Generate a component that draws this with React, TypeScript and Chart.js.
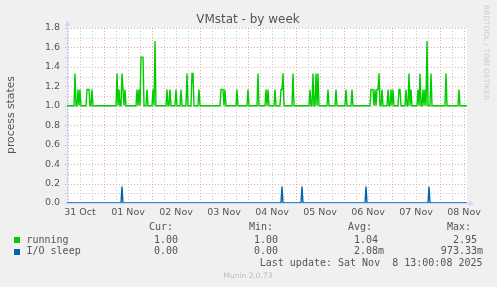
import React, { useEffect, useRef } from 'react';
import { Chart, registerables } from 'chart.js';

Chart.register(...registerables);

// ---------- data ----------
const TITLE = 'VMstat - by week';
const Y_TITLE = 'process states';
const WATERMARK = 'RRDTOOL / TOBI OETIKER';
const FOOTER = 'Munin 2.0.73';
const LAST_UPDATE = 'Last update: Sat Nov  8 13:00:08 2025';

// time axis in hours since 31 Oct 00:00
const START_HOUR = 5.5;
const END_HOUR = 205.5;
const STEP_HOURS = 0.5;
const DAY_LABELS = ['31 Oct', '01 Nov', '02 Nov', '03 Nov', '04 Nov', '05 Nov', '06 Nov', '07 Nov', '08 Nov'];
const DAY_LABEL_HOURS = [12, 36, 60, 84, 108, 132, 156, 180, 204];
const Y_TICKS = [0, 0.2, 0.4, 0.6, 0.8, 1.0, 1.2, 1.4, 1.6, 1.8];

const RUNNING_BASE = 1.0;
const runningSpikeHours = [
  9.5, 11.0, 12.0, 15.5, 16.0, 16.5, 18.0,
  30.5, 31.5, 33.0, 33.5, 34.5,
  40.5, 41.5, 42.5, 43.0, 43.5, 45.5, 48.5, 49.5,
  55.5, 57.0, 60.0, 62.5, 65.5, 68.0, 68.5, 71.5,
  82.5, 83.0, 83.5, 84.5, 90.5, 96.0, 101.0,
  105.0, 106.0, 109.5, 112.5, 113.0, 113.5, 118.5,
  127.0, 128.5, 130.0, 131.0, 136.0, 140.0, 145.0, 148.0,
  157.5, 158.0, 158.5, 159.5, 160.5, 161.0, 161.5, 163.0,
  166.0, 167.5, 168.5, 171.5, 172.0, 175.0, 176.5, 177.5,
  181.0, 182.0, 183.5, 184.5, 185.5, 187.5, 195.0, 201.5,
];
const runningSpikeValues = [
  1.333, 1.167, 1.167, 1.167, 1.167, 1.167, 1.167,
  1.333, 1.167, 1.333, 1.167, 1.167,
  1.167, 1.167, 1.5, 1.5, 1.5, 1.167, 1.167, 1.667,
  1.167, 1.167, 1.167, 1.167, 1.333, 1.333, 1.333, 1.167,
  1.167, 1.167, 1.167, 1.167, 1.167, 1.167, 1.333,
  1.167, 1.167, 1.167, 1.167, 1.167, 1.333, 1.333,
  1.167, 1.333, 1.333, 1.333, 1.167, 1.167, 1.167, 1.167,
  1.167, 1.167, 1.167, 1.167, 1.167, 1.167, 1.333, 1.167,
  1.167, 1.167, 1.167, 1.167, 1.167, 1.167, 1.333, 1.167,
  1.167, 1.333, 1.167, 1.167, 1.667, 1.333, 1.333, 1.167,
];

const IO_BASE = 0;
const ioSpikeHours = [33.0, 113.0, 123.0, 155.0, 186.5];
const ioSpikeValues = [0.17, 0.17, 0.17, 0.17, 0.17];

const legendNames = ['running', 'I/O sleep'];
const legendColors = ['#00cc00', '#0066b3'];
const legendHeaders = ['Cur:', 'Min:', 'Avg:', 'Max:'];
const curValues = ['1.00 ', '0.00 '];
const minValues = ['1.00 ', '0.00 '];
const avgValues = ['1.04 ', '2.08m'];
const maxValues = ['2.95 ', '973.33m'];

// ---------- helpers ----------
function buildSeries(base: number, hours: number[], values: number[]) {
  const pts: { x: number; y: number }[] = [];
  const n = Math.round((END_HOUR - START_HOUR) / STEP_HOURS);
  for (let i = 0; i <= n; i++) {
    const t = START_HOUR + i * STEP_HOURS;
    const k = hours.indexOf(t);
    pts.push({ x: t, y: k >= 0 ? values[k] : base });
  }
  return pts;
}

const FONT = '"DejaVu Sans", sans-serif';
const MONO = '"DejaVu Sans Mono", monospace';
const TEXT_COLOR = '#555555';
const AXIS_COLOR = '#cfd6f8';
const MINOR_GRID = 'rgba(175,175,175,0.7)';
const MAJOR_GRID = 'rgba(232,120,120,0.65)';

const muninPlugin = {
  id: 'munin',
  beforeDraw(chart: any) {
    const { ctx, chartArea, scales } = chart;
    const { left, right, top, bottom } = chartArea;
    ctx.save();
    ctx.fillStyle = '#f0f0f0';
    ctx.fillRect(0, 0, chart.width, chart.height);
    ctx.fillStyle = '#ffffff';
    ctx.fillRect(left, top, right - left, bottom - top);

    ctx.lineWidth = 1;
    ctx.setLineDash([1, 2]);
    // horizontal grid
    for (let i = 0; i <= 18; i++) {
      const v = i / 10;
      const y = Math.round(scales.y.getPixelForValue(v)) + 0.5;
      const major = i % 2 === 0;
      ctx.strokeStyle = major ? MAJOR_GRID : MINOR_GRID;
      ctx.beginPath();
      ctx.moveTo(left - 2, y);
      ctx.lineTo(right, y);
      ctx.stroke();
    }
    // vertical grid
    for (let h = 6; h <= END_HOUR; h += 6) {
      if (h < START_HOUR) continue;
      const x = Math.round(scales.x.getPixelForValue(h)) + 0.5;
      const major = h % 24 === 0;
      ctx.strokeStyle = major ? MAJOR_GRID : MINOR_GRID;
      ctx.beginPath();
      ctx.moveTo(x, top);
      ctx.lineTo(x, bottom + 2);
      ctx.stroke();
    }
    ctx.setLineDash([]);

    // axes
    ctx.strokeStyle = AXIS_COLOR;
    ctx.fillStyle = AXIS_COLOR;
    const ax = Math.round(left) + 0.5;
    const ay = Math.round(bottom) + 0.5;
    ctx.beginPath();
    ctx.moveTo(ax, ay);
    ctx.lineTo(ax, top - 4);
    ctx.moveTo(left - 2, ay);
    ctx.lineTo(right + 3, ay);
    ctx.stroke();
    ctx.beginPath();
    ctx.moveTo(ax, top - 7);
    ctx.lineTo(ax - 3, top - 2);
    ctx.lineTo(ax + 3, top - 2);
    ctx.closePath();
    ctx.fill();
    ctx.beginPath();
    ctx.moveTo(right + 7, ay);
    ctx.lineTo(right + 2, ay - 3);
    ctx.lineTo(right + 2, ay + 3);
    ctx.closePath();
    ctx.fill();
    ctx.restore();
  },
  afterDraw(chart: any) {
    const { ctx } = chart;
    ctx.save();
    // title
    ctx.fillStyle = TEXT_COLOR;
    ctx.font = `12px ${FONT}`;
    ctx.textAlign = 'center';
    ctx.textBaseline = 'middle';
    ctx.fillText(TITLE, 248, 20);

    // y title
    ctx.save();
    ctx.translate(11, 115);
    ctx.rotate(-Math.PI / 2);
    ctx.font = `10.8px ${FONT}`;
    ctx.fillText(Y_TITLE, 0, 0);
    ctx.restore();

    // legend
    ctx.font = `10px ${MONO}`;
    ctx.textBaseline = 'middle';
    ctx.textAlign = 'left';
    const headerX = [149, 249, 348, 447];
    legendHeaders.forEach((h, i) => ctx.fillText(h, headerX[i], 227.5));
    const rowY = [240, 251.7];
    const colRight = [184, 284, 384, 483];
    legendNames.forEach((name, r) => {
      ctx.fillStyle = legendColors[r];
      ctx.fillRect(14, Math.round(rowY[r]) - 3, 6, 6);
      ctx.fillStyle = TEXT_COLOR;
      ctx.textAlign = 'left';
      ctx.fillText(name, 26.5, rowY[r]);
      ctx.textAlign = 'right';
      const vals = [curValues[r], minValues[r], avgValues[r], maxValues[r]];
      vals.forEach((v, c) => ctx.fillText(v, colRight[c], rowY[r]));
    });
    ctx.textAlign = 'right';
    ctx.fillText(LAST_UPDATE, 482.5, 263.5);

    // footer
    ctx.textAlign = 'center';
    ctx.fillStyle = '#bbbbbb';
    ctx.font = `7.5px ${FONT}`;
    ctx.fillText(FOOTER, 248, 276.5);

    // watermark
    ctx.save();
    ctx.translate(485.5, 5);
    ctx.rotate(Math.PI / 2);
    ctx.textAlign = 'left';
    ctx.fillStyle = '#cccccc';
    ctx.font = `7.4px ${FONT}`;
    ctx.fillText(WATERMARK, 0, 0);
    ctx.restore();

    ctx.restore();
  },
};

export default function App() {
  const ref = useRef<HTMLCanvasElement | null>(null);

  useEffect(() => {
    if (!ref.current) return;
    const chart = new Chart(ref.current, {
      type: 'line',
      data: {
        datasets: [
          {
            label: legendNames[1],
            data: buildSeries(IO_BASE, ioSpikeHours, ioSpikeValues),
            borderColor: legendColors[1],
            borderWidth: 1.4,
            pointRadius: 0,
            tension: 0,
            fill: false,
          },
          {
            label: legendNames[0],
            data: buildSeries(RUNNING_BASE, runningSpikeHours, runningSpikeValues),
            borderColor: legendColors[0],
            borderWidth: 1.4,
            pointRadius: 0,
            tension: 0,
            fill: false,
          },
        ],
      },
      options: {
        animation: false,
        responsive: false,
        devicePixelRatio: 1,
        parsing: false as any,
        normalized: true,
        layout: { padding: { top: 28, right: 30, bottom: 64, left: 0 } },
        plugins: {
          legend: { display: false },
          title: { display: false },
          tooltip: { enabled: false },
        },
        scales: {
          x: {
            type: 'linear',
            min: START_HOUR,
            max: END_HOUR,
            grid: { display: false, drawTicks: false },
            border: { display: false },
            ticks: {
              autoSkip: false,
              maxRotation: 0,
              minRotation: 0,
              padding: 4,
              color: TEXT_COLOR,
              font: { family: FONT, size: 9.5 },
              callback: (v: any) => {
                const k = DAY_LABEL_HOURS.indexOf(Number(v));
                return k >= 0 ? DAY_LABELS[k] : '';
              },
            },
            afterBuildTicks: (s: any) => {
              s.ticks = DAY_LABEL_HOURS.map((v) => ({ value: v }));
            },
            afterFit: (s: any) => {
              s.height = 20;
            },
          },
          y: {
            type: 'linear',
            min: 0,
            max: 1.8,
            grid: { display: false, drawTicks: false },
            border: { display: false },
            ticks: {
              padding: 7,
              color: TEXT_COLOR,
              font: { family: FONT, size: 9.5 },
              callback: (v: any) => Number(v).toFixed(1),
            },
            afterBuildTicks: (s: any) => {
              s.ticks = Y_TICKS.map((v) => ({ value: v }));
            },
            afterFit: (s: any) => {
              s.width = 67;
            },
          },
        },
      },
      plugins: [muninPlugin],
    });
    return () => chart.destroy();
  }, []);

  return (
    <div style={{ position: 'absolute', left: 0, top: 0, width: 497, height: 287 }}>
      <canvas ref={ref} width={497} height={287} style={{ display: 'block' }} />
    </div>
  );
}
